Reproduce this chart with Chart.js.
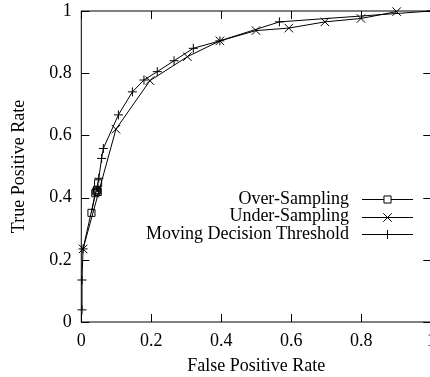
<!DOCTYPE html>
<html>
<head>
<meta charset="utf-8">
<script src="https://cdn.jsdelivr.net/npm/chart.js@4.4.0/dist/chart.umd.min.js"></script>
<style>
  html, body { margin: 0; padding: 0; background: #fff; }
  #wrap { width: 430px; height: 377px; overflow: hidden; }
</style>
</head>
<body>
<div id="wrap"><canvas id="rocChart" width="440" height="377"></canvas></div>
<script>
// series values (FPR, TPR)
const overX = [0.029, 0.040, 0.043, 0.045, 0.047, 0.048];
const overY = [0.351, 0.414, 0.420, 0.425, 0.418, 0.446];

const underX = [0.005, 0.099, 0.196, 0.303, 0.396, 0.499, 0.593, 0.696, 0.799, 0.901];
const underY = [0.235, 0.620, 0.776, 0.853, 0.904, 0.937, 0.945, 0.965, 0.976, 0.998];

const movingX = [0.002, 0.002, 0.005, 0.050, 0.058, 0.063, 0.106, 0.146, 0.179, 0.217, 0.265, 0.320, 0.396, 0.566, 1.0];
const movingY = [0.039, 0.135, 0.235, 0.462, 0.526, 0.558, 0.666, 0.740, 0.778, 0.805, 0.840, 0.880, 0.904, 0.965, 1.0];

const axisTicks = [0, 0.2, 0.4, 0.6, 0.8, 1];
const tickLabels = ["0", "0.2", "0.4", "0.6", "0.8", "1"];
const seriesNames = ["Over-Sampling", "Under-Sampling", "Moving Decision Threshold"];

const FONT = "'Liberation Serif', 'Times New Roman', serif";

function toPoints(xs, ys) {
    return xs.map((x, i) => ({ x: x, y: ys[i] }));
}

function tickText(value, index) {
    return tickLabels[index];
}

// gnuplot style box with inward ticks on all sides
const framePlugin = {
    id: "frame",
    beforeDatasetsDraw(chart) {
        const { ctx, chartArea: a, scales } = chart;
        const len = 8;
        ctx.save();
        ctx.strokeStyle = "#000";
        ctx.lineWidth = 1;
        ctx.strokeRect(a.left, a.top, a.right - a.left, a.bottom - a.top);
        ctx.beginPath();
        axisTicks.forEach(v => {
            const px = Math.round(scales.x.getPixelForValue(v)) + 0.5;
            ctx.moveTo(px, a.bottom); ctx.lineTo(px, a.bottom - len);
            ctx.moveTo(px, a.top); ctx.lineTo(px, a.top + len);
            const py = Math.round(scales.y.getPixelForValue(v)) + 0.5;
            ctx.moveTo(a.left, py); ctx.lineTo(a.left + len, py);
            ctx.moveTo(a.right, py); ctx.lineTo(a.right - len, py);
        });
        ctx.stroke();
        ctx.restore();
    }
};

// legend inside the plot, text on the left, sample on the right
const keyPlugin = {
    id: "key",
    afterDatasetsDraw(chart) {
        const { ctx } = chart;
        const textRight = 349, lineL = 362, lineR = 413, mid = 387.5;
        const rows = [199, 216.6, 234.2];
        ctx.save();
        ctx.font = "18px " + FONT;
        ctx.textAlign = "right";
        ctx.textBaseline = "middle";
        chart.data.datasets.forEach((ds, i) => {
            const y = rows[i];
            ctx.fillStyle = "#000";
            ctx.fillText(ds.label, textRight, y);
            ctx.strokeStyle = "#000";
            ctx.lineWidth = 1;
            ctx.beginPath();
            ctx.moveTo(lineL, Math.round(y) + 0.5);
            ctx.lineTo(lineR, Math.round(y) + 0.5);
            ctx.stroke();
            ctx.fillStyle = "#fff";
            Chart.helpers.drawPoint(ctx, {
                pointStyle: ds.pointStyle,
                radius: ds.pointRadius,
                rotation: 0,
                borderWidth: 1
            }, mid, Math.round(y) + 0.5);
        });
        ctx.restore();
    }
};

const baseSet = {
    showLine: true,
    borderColor: "#000",
    borderWidth: 1,
    pointBorderColor: "#000",
    pointBackgroundColor: "rgba(0,0,0,0)",
    pointBorderWidth: 1,
    clip: false
};

new Chart(document.getElementById("rocChart"), {
    type: "scatter",
    data: {
        datasets: [
            Object.assign({}, baseSet, { label: seriesNames[0], data: toPoints(overX, overY), pointStyle: "rect", pointRadius: 5 }),
            Object.assign({}, baseSet, { label: seriesNames[1], data: toPoints(underX, underY), pointStyle: "crossRot", pointRadius: 6 }),
            Object.assign({}, baseSet, { label: seriesNames[2], data: toPoints(movingX, movingY), pointStyle: "cross", pointRadius: 4.5 })
        ]
    },
    options: {
        responsive: false,
        animation: false,
        layout: { padding: { top: 11, right: 8.7, left: 0, bottom: 0 } },
        plugins: {
            legend: { display: false },
            tooltip: { enabled: false }
        },
        scales: {
            x: {
                type: "linear",
                min: 0,
                max: 1,
                afterBuildTicks: s => { s.ticks = axisTicks.map(v => ({ value: v })); },
                afterFit: s => { s.height = 55; s.paddingLeft = 0; s.paddingRight = 0; },
                grid: { display: false, drawTicks: false },
                border: { display: false },
                ticks: { color: "#000", padding: 8, maxRotation: 0, callback: tickText, font: { family: FONT, size: 18 } },
                title: { display: true, text: "False Positive Rate", color: "#000", padding: { top: 0, bottom: 0 }, font: { family: FONT, size: 18 } }
            },
            y: {
                type: "linear",
                min: 0,
                max: 1,
                afterBuildTicks: s => { s.ticks = axisTicks.map(v => ({ value: v })); },
                afterFit: s => { s.width = 81.3; s.paddingTop = 0; s.paddingBottom = 0; },
                grid: { display: false, drawTicks: false },
                border: { display: false },
                ticks: { color: "#000", padding: 9.5, callback: tickText, font: { family: FONT, size: 18 } },
                title: { display: true, text: "True Positive Rate", color: "#000", padding: { top: 8, bottom: 0 }, font: { family: FONT, size: 18 } }
            }
        }
    },
    plugins: [framePlugin, keyPlugin]
});
</script>
</body>
</html>
